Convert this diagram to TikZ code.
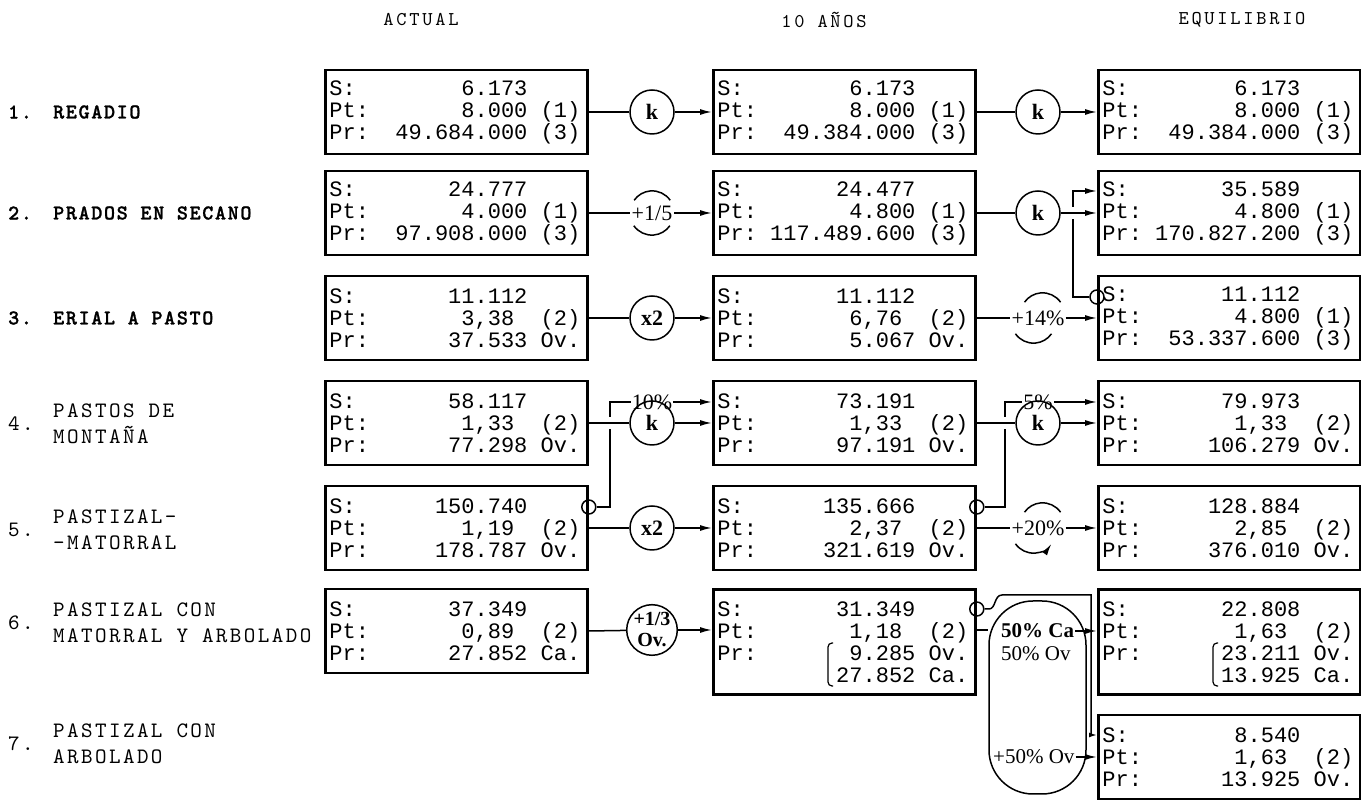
\documentclass[tikz,border=0pt]{standalone}
\usepackage{fontspec}
\usetikzlibrary{arrows.meta,positioning}
\newfontfamily\cellfont{Liberation Mono}
\newfontfamily\opfont{Liberation Serif}
\newfontfamily\lblfont{lmmono10-regular.otf}[LetterSpace=11]
\newfontfamily\blblfont{lmmonolt10-bold.otf}[LetterSpace=8,FakeBold=1.2]
\newfontfamily\headfont{lmmono10-regular.otf}[LetterSpace=14]

\begin{document}
\begin{tikzpicture}[x=1pt,y=1pt,
  cell/.style={draw,line width=2.8pt,anchor=west,align=left,
    font=\cellfont\fontsize{22}{22}\selectfont,
    execute at begin node={\def~{\hphantom{0}}},
    text width=254pt,inner xsep=4pt,inner ysep=0pt,minimum height=84pt},
  tall/.style={cell,minimum height=105pt},
  conn/.style={line width=1.5pt},
  arr/.style={conn,-{Latex[length=12pt,width=6pt]}},
  op/.style={circle,draw,line width=1.5pt,minimum size=44pt,inner sep=0pt,
    font=\opfont\bfseries\fontsize{22}{22}\selectfont},
  openop/.style={circle,minimum size=44pt,inner sep=0pt,
    font=\opfont\fontsize{22}{22}\selectfont},
  jn/.style={circle,draw,line width=1.5pt,minimum size=14pt,inner sep=0pt},
  tag/.style={inner sep=1pt,font=\opfont\fontsize{22}{22}\selectfont},
  head/.style={font=\headfont\fontsize{19.5}{20}\selectfont},
  lbl/.style={anchor=west,align=left,inner sep=0pt,font=\lblfont\fontsize{22}{26}\selectfont},
  blbl/.style={lbl,font=\blblfont\fontsize{21}{26}\selectfont},
]
\useasboundingbox (0,0) rectangle (1361,800);

% column headings
\node[head] (hA) at (421,780) {ACTUAL};
\node[head] (hB) at (824,780) {10 AÑOS};
\node[head] (hC) at (1242,780) {EQUILIBRIO};

% row labels
\node[blbl] (n1) at (8,688) {1.};
\node[blbl] (t1) at (53,688) {REGADIO};
\node[blbl] (n2) at (8,587) {2.};
\node[blbl] (t2) at (53,587) {PRADOS EN SECANO};
\node[blbl] (n3) at (8,482) {3.};
\node[blbl] (t3) at (53,482) {ERIAL A PASTO};
\node[lbl] (n4) at (8,376) {4.};
\node[lbl] (t4) at (53,376) {PASTOS DE\\MONTAÑA};
\node[lbl] (n5) at (8,270) {5.};
\node[lbl] (t5) at (53,270) {PASTIZAL-\\-MATORRAL};
\node[lbl] (n6) at (8,177) {6.};
\node[lbl] (t6) at (53,177) {PASTIZAL CON\\MATORRAL Y ARBOLADO};
\node[lbl] (n7) at (8,56) {7.};
\node[lbl] (t7) at (53,56) {PASTIZAL CON\\ARBOLADO};

% actual
\node[cell] (a1) at (324,688) {S:~~~~~~~~6.173\\Pt:~~~~~~~8.000~(1)\\Pr:~~49.684.000~(3)};
\node[cell] (a2) at (324,587) {S:~~~~~~~24.777\\Pt:~~~~~~~4.000~(1)\\Pr:~~97.908.000~(3)};
\node[cell] (a3) at (324,482) {S:~~~~~~~11.112\\Pt:~~~~~~~3,38~~(2)\\Pr:~~~~~~37.533~Ov.};
\node[cell] (a4) at (324,377) {S:~~~~~~~58.117\\Pt:~~~~~~~1,33~~(2)\\Pr:~~~~~~77.298~Ov.};
\node[cell] (a5) at (324,272) {S:~~~~~~150.740\\Pt:~~~~~~~1,19~~(2)\\Pr:~~~~~178.787~Ov.};
\node[cell] (a6) at (324,169) {S:~~~~~~~37.349\\Pt:~~~~~~~0,89~~(2)\\Pr:~~~~~~27.852~Ca.};

% 10 anos
\node[cell] (b1) at (712,688) {S:~~~~~~~~6.173\\Pt:~~~~~~~8.000~(1)\\Pr:~~49.384.000~(3)};
\node[cell] (b2) at (712,587) {S:~~~~~~~24.477\\Pt:~~~~~~~4.800~(1)\\Pr:~117.489.600~(3)};
\node[cell] (b3) at (712,482) {S:~~~~~~~11.112\\Pt:~~~~~~~6,76~~(2)\\Pr:~~~~~~~5.067~Ov.};
\node[cell] (b4) at (712,377) {S:~~~~~~~73.191\\Pt:~~~~~~~1,33~~(2)\\Pr:~~~~~~97.191~Ov.};
\node[cell] (b5) at (712,272) {S:~~~~~~135.666\\Pt:~~~~~~~2,37~~(2)\\Pr:~~~~~321.619~Ov.};
\node[tall] (b6) at (712,158) {S:~~~~~~~31.349\\Pt:~~~~~~~1,18~~(2)\\Pr:~~~~~~~9.285~Ov.\\~~~~~~~~~27.852~Ca.};

% equilibrio
\node[cell] (c1) at (1097,688) {S:~~~~~~~~6.173\\Pt:~~~~~~~8.000~(1)\\Pr:~~49.384.000~(3)};
\node[cell] (c2) at (1097,587) {S:~~~~~~~35.589\\Pt:~~~~~~~4.800~(1)\\Pr:~170.827.200~(3)};
\node[cell] (c3) at (1097,482) {S:~~~~~~~11.112\\Pt:~~~~~~~4.800~(1)\\Pr:~~53.337.600~(3)};
\node[cell] (c4) at (1097,377) {S:~~~~~~~79.973\\Pt:~~~~~~~1,33~~(2)\\Pr:~~~~~106.279~Ov.};
\node[cell] (c5) at (1097,272) {S:~~~~~~128.884\\Pt:~~~~~~~2,85~~(2)\\Pr:~~~~~376.010~Ov.};
\node[tall] (c6) at (1097,158) {S:~~~~~~~22.808\\Pt:~~~~~~~1,63~~(2)\\Pr:~~~~~~23.211~Ov.\\~~~~~~~~~13.925~Ca.};
\node[cell] (c7) at (1097,43) {S:~~~~~~~~8.540\\Pt:~~~~~~~1,63~~(2)\\Pr:~~~~~~13.925~Ov.};

% brackets of the split productions
\draw[line width=1.2pt,rounded corners=4pt] (833,157) -- (828,157) -- (828,114) -- (833,114);
\draw[line width=1.2pt,rounded corners=4pt] (1218,157) -- (1213,157) -- (1213,114) -- (1218,114);

% operators
\node[op] (ka1) at (652,688) {k};
\node[op] (kb1) at (1038,688) {k};
\node[openop] (pa2) at (652,587) {+1/5};
\node[op] (kb2) at (1038,587) {k};
\node[op] (ka3) at (652,482) {x2};
\node[openop] (pb3) at (1038,482) {+14\%};
\node[op] (ka4) at (652,377) {k};
\node[op] (kb4) at (1038,377) {k};
\node[op] (ka5) at (652,272) {x2};
\node[openop] (pb5) at (1038,272) {+20\%};
\node[op,minimum size=50pt,align=center,font=\opfont\bfseries\fontsize{20}{21}\selectfont] (ka6) at (652,170) {+1/3\\Ov.};

\draw[conn] (pa2.35) arc[start angle=35,end angle=145,radius=22pt];
\draw[conn] (pa2.215) arc[start angle=215,end angle=325,radius=22pt];
\draw[conn] (pb3.35) arc[start angle=35,end angle=145,radius=22pt];
\draw[conn] (pb3.215) arc[start angle=215,end angle=325,radius=22pt];
\draw[conn] (pb5.35) arc[start angle=35,end angle=145,radius=22pt];
\draw[arr] (pb5.215) arc[start angle=215,end angle=325,radius=22pt];

% main flows
\draw[conn] (a1.east) -- (ka1);  \draw[arr] (ka1) -- (b1.west);
\draw[conn] (b1.east) -- (kb1);  \draw[arr] (kb1) -- (c1.west);
\draw[conn] (a2.east) -- (pa2.west);  \draw[arr] (pa2.east) -- (b2.west);
\draw[conn] (b2.east) -- (kb2);  \draw[arr] (kb2) -- (c2.west);
\draw[conn] (a3.east) -- (ka3);  \draw[arr] (ka3) -- (b3.west);
\draw[conn] (b3.east) -- (pb3.west);  \draw[arr] (pb3.east) -- (c3.west);
\draw[conn] (a4.east) -- (ka4);  \draw[arr] (ka4) -- (b4.west);
\draw[conn] (b4.east) -- (kb4);  \draw[arr] (kb4) -- (c4.west);
\draw[conn] (a5.east) -- (ka5);  \draw[arr] (ka5) -- (b5.west);
\draw[conn] (b5.east) -- (pb5.west);  \draw[arr] (pb5.east) -- (c5.west);
\draw[conn] (a6.east) -- (ka6);  \draw[arr] (ka6) -- (b6.west |- ka6);

% transfers between rows
\node[jn] (jc3) at (c3.west |- 0,503) {};
\draw[conn] (jc3.west) -| (1073,581);
\draw[arr] (1073,593) |- (c2.west |- 0,609);

\node[jn] (ja5) at (a5.east |- 0,293) {};
\node[tag] (l10) at (652,398) {10\%};
\draw[conn] (ja5.east) -| (610,371);
\draw[conn] (610,383) |- (l10.west);
\draw[arr] (l10.east) -- (b4.west |- l10);

\node[jn] (jb5) at (b5.east |- 0,293) {};
\node[tag] (l5) at (1038,398) {5\%};
\draw[conn] (jb5.east) -| (1005,371);
\draw[conn] (1005,383) |- (l5.west);
\draw[arr] (l5.east) -- (c4.west |- l5);

% split of row 6
\node[draw,line width=1.5pt,rounded corners=44pt,minimum width=97pt,
  minimum height=193pt,inner sep=0pt] (split6) at (1037.5,102.5) {};
\draw[conn] (b6.east |- ka6) -- (split6.west |- ka6);
\node[tag,anchor=west,font=\opfont\bfseries\fontsize{21}{22}\selectfont] (ca6) at (1000,169) {50\% Ca};
\node[tag,anchor=west,font=\opfont\fontsize{21}{22}\selectfont] (ov6) at (1000,146) {50\% Ov};
\node[tag,anchor=west,font=\opfont\fontsize{21}{22}\selectfont] (ov7) at (992,43) {+50\% Ov};
\draw[arr] (ca6.east) -- (c6.west |- ca6);
\draw[arr] (ov7.east) -- (c7.west |- ov7);

\node[jn] (jb6) at (b6.east |- 0,191) {};
\draw[conn,-{Latex[length=8pt,width=5pt]}] (jb6.east) -- (989,191)
  .. controls (996,191) and (994,205) .. (1002,205) -- (1091,205) |- (c7.west |- 0,65);
\end{tikzpicture}
\end{document}
